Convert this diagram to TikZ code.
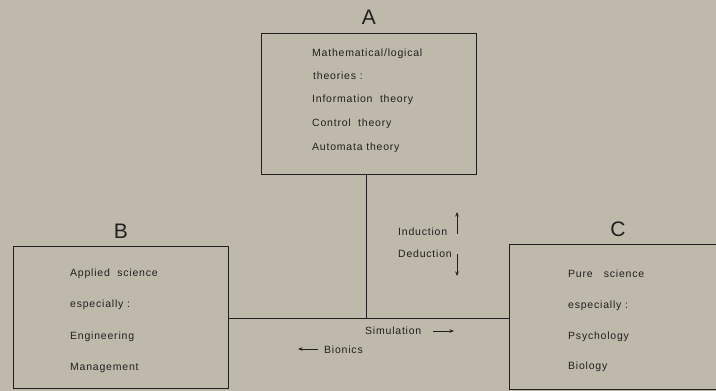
\documentclass[tikz,border=0pt]{standalone}
\usepackage{fontspec}
\setmainfont{Liberation Sans}
\newfontfamily\labfont[LetterSpace=7.5]{Liberation Sans}
\usetikzlibrary{arrows.meta}
\definecolor{paper}{RGB}{190,185,171}
\definecolor{ink}{RGB}{34,32,30}
\tikzset{
  panel/.style={draw=ink, line width=0.95pt, rectangle, inner sep=0pt},
  heading/.style={text=ink, font=\fontsize{21}{21}\selectfont, inner sep=0pt},
  entry/.style={text=ink, font=\labfont\fontsize{10.5}{12}\selectfont, anchor=base west, inner sep=0pt},
  link/.style={draw=ink, line width=0.95pt},
  flow/.style={draw=ink, line width=0.9pt, -{Stealth[length=4.5pt,width=3.5pt]}}
}
\begin{document}
\begin{tikzpicture}[x=1pt,y=-1pt]
  % page and background
  \fill[paper] (0,0) rectangle (716,391);
  \useasboundingbox (0,0) rectangle (716,391);
  \clip (0,0) rectangle (716,391);

  % the three fields
  \node[panel, minimum width=215pt, minimum height=141pt] (A) at (368.5,103.5) {};
  \node[panel, minimum width=215pt, minimum height=142pt] (B) at (120.5,317) {};
  \node[panel, minimum width=225pt, minimum height=145pt] (C) at (621.5,316.5) {};

  \node[heading] (la) at (369,17) {A};
  \node[heading] (lb) at (121,231) {B};
  \node[heading] (lc) at (618,229) {C};

  % contents of A
  \node[entry] (a1) at (312,56) {Mathematical/logical};
  \node[entry] (a2) at (313,79.5) {theories :};
  \node[entry] (a3) at (312,102.5) {Information\ \ theory};
  \node[entry] (a4) at (312,126) {Control\ \ theory};
  \node[entry] (a5) at (312,150.5) {Automata theory};

  % contents of B
  \node[entry] (b1) at (70,276.5) {Applied\ \ science};
  \node[entry] (b2) at (70,307.5) {especially :};
  \node[entry] (b3) at (70,339) {Engineering};
  \node[entry] (b4) at (70,370) {Management};

  % contents of C
  \node[entry] (c1) at (568,277.5) {Pure\ \ \ science};
  \node[entry] (c2) at (568,308.5) {especially :};
  \node[entry] (c3) at (568,339.5) {Psychology};
  \node[entry] (c4) at (568,369.5) {Biology};

  % connectors
  \coordinate (j) at (366,318);
  \draw[link] (A.south -| j) -- (j);
  \draw[link] (j -| B.east) -- (j -| C.west);

  % relations along the connectors
  \node[entry] (ind) at (398,235) {Induction};
  \node[entry] (ded) at (398,257) {Deduction};
  \coordinate (indA) at (457,234);
  \coordinate (indB) at (457,212);
  \coordinate (dedA) at (457,254);
  \coordinate (dedB) at (457,276);
  \draw[flow] (indA) -- (indB);
  \draw[flow] (dedA) -- (dedB);

  \node[entry] (sim) at (365,334) {Simulation};
  \node[entry] (bio) at (324,353.5) {Bionics};
  \coordinate (simA) at (433,331);
  \coordinate (simB) at (454,331);
  \coordinate (bioA) at (318,349);
  \coordinate (bioB) at (298,349);
  \draw[flow] (simA) -- (simB);
  \draw[flow] (bioA) -- (bioB);
\end{tikzpicture}
\end{document}
